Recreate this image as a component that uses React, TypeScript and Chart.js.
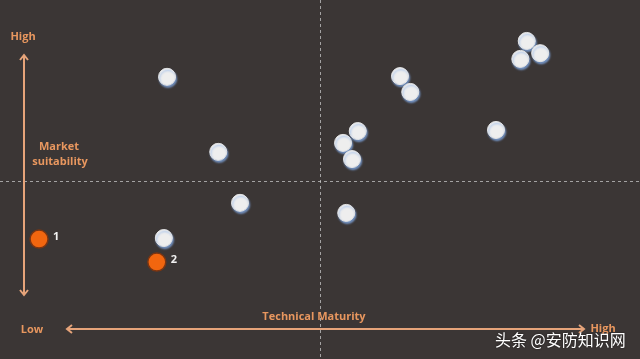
import React, { useEffect, useRef } from "react";
import { Chart, registerables } from "chart.js";

Chart.register(...registerables);

// Technical maturity (x, 0-100) and market suitability (y, 0-100)
const whiteX = [26.1, 34.1, 37.5, 25.6, 54.1, 53.6, 55.9, 55.0, 62.5, 64.1, 77.5, 82.3, 84.4, 81.3];
const whiteY = [78.6, 57.7, 43.5, 33.7, 40.7, 60.2, 63.5, 55.7, 78.8, 74.4, 63.8, 88.6, 85.2, 83.6];
const orangeX = [6.1, 24.5];
const orangeY = [33.4, 27.0];
const orangeLabels = ["1", "2"];

const BG = "#3b3635";
const PEACH = "#e8975f";
const ARROW = "#e6a47a";

const overlay = {
  id: "overlay",
  beforeDraw(chart: any) {
    const { ctx, width, height } = chart;
    ctx.save();
    ctx.fillStyle = BG;
    ctx.fillRect(0, 0, width, height);
    const xs = chart.scales.x;
    const ys = chart.scales.y;
    const cx = Math.round(xs.getPixelForValue(50)) + 0.5;
    const cy = Math.round(ys.getPixelForValue(49.5)) + 0.5;
    ctx.strokeStyle = "rgba(200,200,200,0.75)";
    ctx.lineWidth = 1;
    ctx.setLineDash([3, 3]);
    ctx.beginPath();
    ctx.moveTo(cx, 0);
    ctx.lineTo(cx, height);
    ctx.moveTo(0, cy);
    ctx.lineTo(width, cy);
    ctx.stroke();
    ctx.setLineDash([]);

    // arrows
    ctx.strokeStyle = ARROW;
    ctx.lineWidth = 2;
    ctx.beginPath();
    ctx.moveTo(24, 55);
    ctx.lineTo(24, 295);
    ctx.moveTo(67, 329);
    ctx.lineTo(584, 329);
    ctx.moveTo(20, 60); ctx.lineTo(24, 55); ctx.lineTo(28, 60);
    ctx.moveTo(20, 290); ctx.lineTo(24, 295); ctx.lineTo(28, 290);
    ctx.moveTo(72, 325); ctx.lineTo(67, 329); ctx.lineTo(72, 333);
    ctx.moveTo(579, 325); ctx.lineTo(584, 329); ctx.lineTo(579, 333);
    ctx.stroke();

    ctx.fillStyle = PEACH;
    ctx.font = "bold 11px 'Open Sans', sans-serif";
    ctx.textAlign = "center";
    ctx.textBaseline = "middle";
    ctx.fillText("High", 23, 37);
    ctx.fillText("Market", 59, 147);
    ctx.fillText("suitability", 60, 162);
    ctx.fillText("Low", 32, 330);
    ctx.fillText("Technical Maturity", 314, 317);
    ctx.fillText("High", 603, 329);
    ctx.restore();
  },
  beforeDatasetDraw(chart: any, args: any) {
    const ctx = chart.ctx;
    ctx.save();
    if (args.index === 0) {
      ctx.shadowColor = "rgba(130,170,230,0.8)";
      ctx.shadowOffsetX = 1;
      ctx.shadowOffsetY = 2;
      ctx.shadowBlur = 2;
    }
  },
  afterDatasetDraw(chart: any) {
    chart.ctx.restore();
  },
  afterDraw(chart: any) {
    const { ctx } = chart;
    const meta = chart.getDatasetMeta(1);
    ctx.save();
    ctx.fillStyle = "#f2f2f2";
    ctx.font = "bold 11px 'Open Sans', sans-serif";
    ctx.textAlign = "left";
    ctx.textBaseline = "middle";
    meta.data.forEach((pt: any, i: number) => {
      ctx.fillText(orangeLabels[i], pt.x + 14, pt.y - 2);
    });
    ctx.fillStyle = "#ffffff";
    ctx.font = "16px 'Noto Sans CJK SC', sans-serif";
    ctx.shadowColor = "rgba(0,0,0,0.6)";
    ctx.shadowBlur = 2;
    ctx.fillText("头条 @安防知识网", 495, 340);
    ctx.restore();
  },
};

export default function App() {
  const ref = useRef<HTMLCanvasElement | null>(null);
  useEffect(() => {
    document.body.style.margin = "0";
    document.body.style.background = BG;
    const c = new Chart(ref.current as HTMLCanvasElement, {
      type: "scatter",
      data: {
        datasets: [
          {
            data: whiteX.map((x, i) => ({ x, y: whiteY[i] })),
            backgroundColor: "#eeeeee",
            borderColor: "#e4e4e4",
            borderWidth: 1,
            pointRadius: 8.5,
          },
          {
            data: orangeX.map((x, i) => ({ x, y: orangeY[i] })),
            backgroundColor: "#f2660f",
            borderColor: "#7a3512",
            borderWidth: 1.5,
            pointRadius: 9,
          },
        ],
      },
      options: {
        animation: false,
        responsive: false,
        layout: { padding: 0, autoPadding: false },
        plugins: { legend: { display: false }, tooltip: { enabled: false } },
        scales: {
          x: { display: false, min: 0, max: 100 },
          y: { display: false, min: 0, max: 100 },
        },
      },
      plugins: [overlay],
    });
    return () => c.destroy();
  }, []);
  return (
    <div style={{ width: 640, height: 359, background: BG }}>
      <canvas ref={ref} width={640} height={359} style={{ display: "block" }} />
    </div>
  );
}
